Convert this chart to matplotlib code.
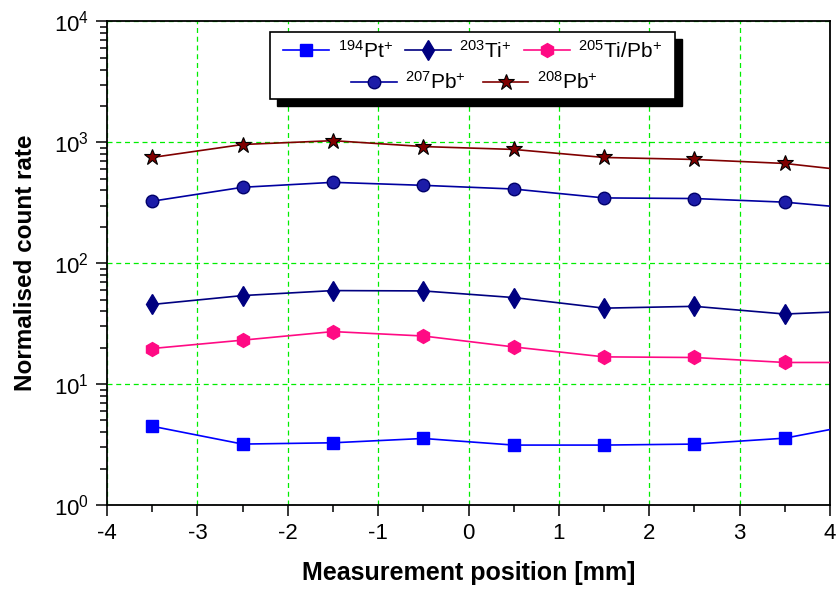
import matplotlib
matplotlib.use("Agg")
import matplotlib.pyplot as plt
from matplotlib.patches import Rectangle
from matplotlib.ticker import LogLocator, MultipleLocator

fam = 'Liberation Sans'
plt.rcParams['font.family'] = [fam, 'DejaVu Sans']
plt.rcParams['mathtext.fontset'] = 'custom'
plt.rcParams['mathtext.rm'] = fam
plt.rcParams['mathtext.it'] = fam
plt.rcParams['mathtext.bf'] = fam + ':bold'
plt.rcParams['axes.unicode_minus'] = False

positions = [-3.5, -2.5, -1.5, -0.5, 0.5, 1.5, 2.5, 3.5, 4.5]
pt194 = [4.48, 3.19, 3.27, 3.55, 3.13, 3.13, 3.19, 3.57, 4.96]
ti203 = [45.6, 54.0, 59.4, 59.0, 52.0, 42.5, 44.0, 38.0, 40.8]
tipb205 = [19.7, 23.1, 27.2, 25.0, 20.3, 16.8, 16.6, 15.1, 15.1]
pb207 = [326, 425, 467, 441, 411, 347, 343, 320, 275]
pb208 = [750, 960, 1033, 923, 874, 750, 722, 669, 553]

labels = [r'$^{194}$Pt$^{+}$', r'$^{203}$Ti$^{+}$', r'$^{205}$Ti/Pb$^{+}$',
          r'$^{207}$Pb$^{+}$', r'$^{208}$Pb$^{+}$']

fig = plt.figure(figsize=(8.38, 5.92), dpi=100)
ax = fig.add_axes([0.1277, 0.1470, 0.8628, 0.8167])

styles = [
    dict(color='#0000ff', marker='s', markersize=8, markerfacecolor='#0000ff', markeredgecolor='#0000ff'),
    dict(color='#000080', marker='d', markersize=10, markerfacecolor='#000080', markeredgecolor='#000080'),
    dict(color='#ff0a84', marker='h', markersize=10, markerfacecolor='#ff0a84', markeredgecolor='#ff0a84'),
    dict(color='#0000a0', marker='o', markersize=9, markerfacecolor='#1c1ca8', markeredgecolor='#00006a'),
    dict(color='#800000', marker='*', markersize=12, markerfacecolor='#800000', markeredgecolor='#000000', markeredgewidth=0.8),
]
series = [pt194, ti203, tipb205, pb207, pb208]
handles = []
for data, st, lab in zip(series, styles, labels):
    h, = ax.plot(positions, data, linewidth=1.2, label=lab, clip_on=True, zorder=3, **st)
    handles.append(h)

ax.set_yscale('log')
ax.set_xlim(-4, 4)
ax.set_ylim(1, 1e4)
ax.xaxis.set_major_locator(MultipleLocator(1))
ax.xaxis.set_minor_locator(MultipleLocator(0.5))
ax.yaxis.set_major_locator(LogLocator(base=10, numticks=10))
ax.yaxis.set_minor_locator(LogLocator(base=10, subs=range(2, 10), numticks=20))

ax.grid(True, which='major', color='#00ee00', linestyle=(0, (4, 3)), linewidth=0.9)
ax.tick_params(which='major', direction='out', length=8, width=1.1, labelsize=16, pad=5)
ax.tick_params(which='minor', direction='out', length=5, width=1.1)
for s in ax.spines.values():
    s.set_linewidth(1.3)

ax.set_xlabel('Measurement position [mm]', fontsize=18, fontweight='bold', labelpad=12)
ax.set_ylabel('Normalised count rate', fontsize=17.5, fontweight='bold', labelpad=12)

# legend frame with shadow
x0, y0, w, hgt = 0.226, 0.840, 0.560, 0.138
shadow = Rectangle((x0 + 0.0096, y0 - 0.0145), w, hgt, transform=ax.transAxes,
                   facecolor='black', edgecolor='black', zorder=9)
frame = Rectangle((x0, y0), w, hgt, transform=ax.transAxes,
                  facecolor='white', edgecolor='black', linewidth=1.2, zorder=10)
ax.add_patch(shadow)
ax.add_patch(frame)

leg1 = ax.legend(handles[:3], labels[:3], ncol=3, loc='center', bbox_to_anchor=(0.506, 0.94),
                 frameon=False, fontsize=15, handlelength=2.2, columnspacing=0.6,
                 handletextpad=0.4, borderpad=0)
leg1.set_zorder(11)
ax.add_artist(leg1)
leg2 = ax.legend(handles[3:], labels[3:], ncol=2, loc='center', bbox_to_anchor=(0.508, 0.875),
                 frameon=False, fontsize=15, handlelength=2.2, columnspacing=0.8,
                 handletextpad=0.4, borderpad=0)
leg2.set_zorder(11)

fig.savefig('out.png', dpi=100)
